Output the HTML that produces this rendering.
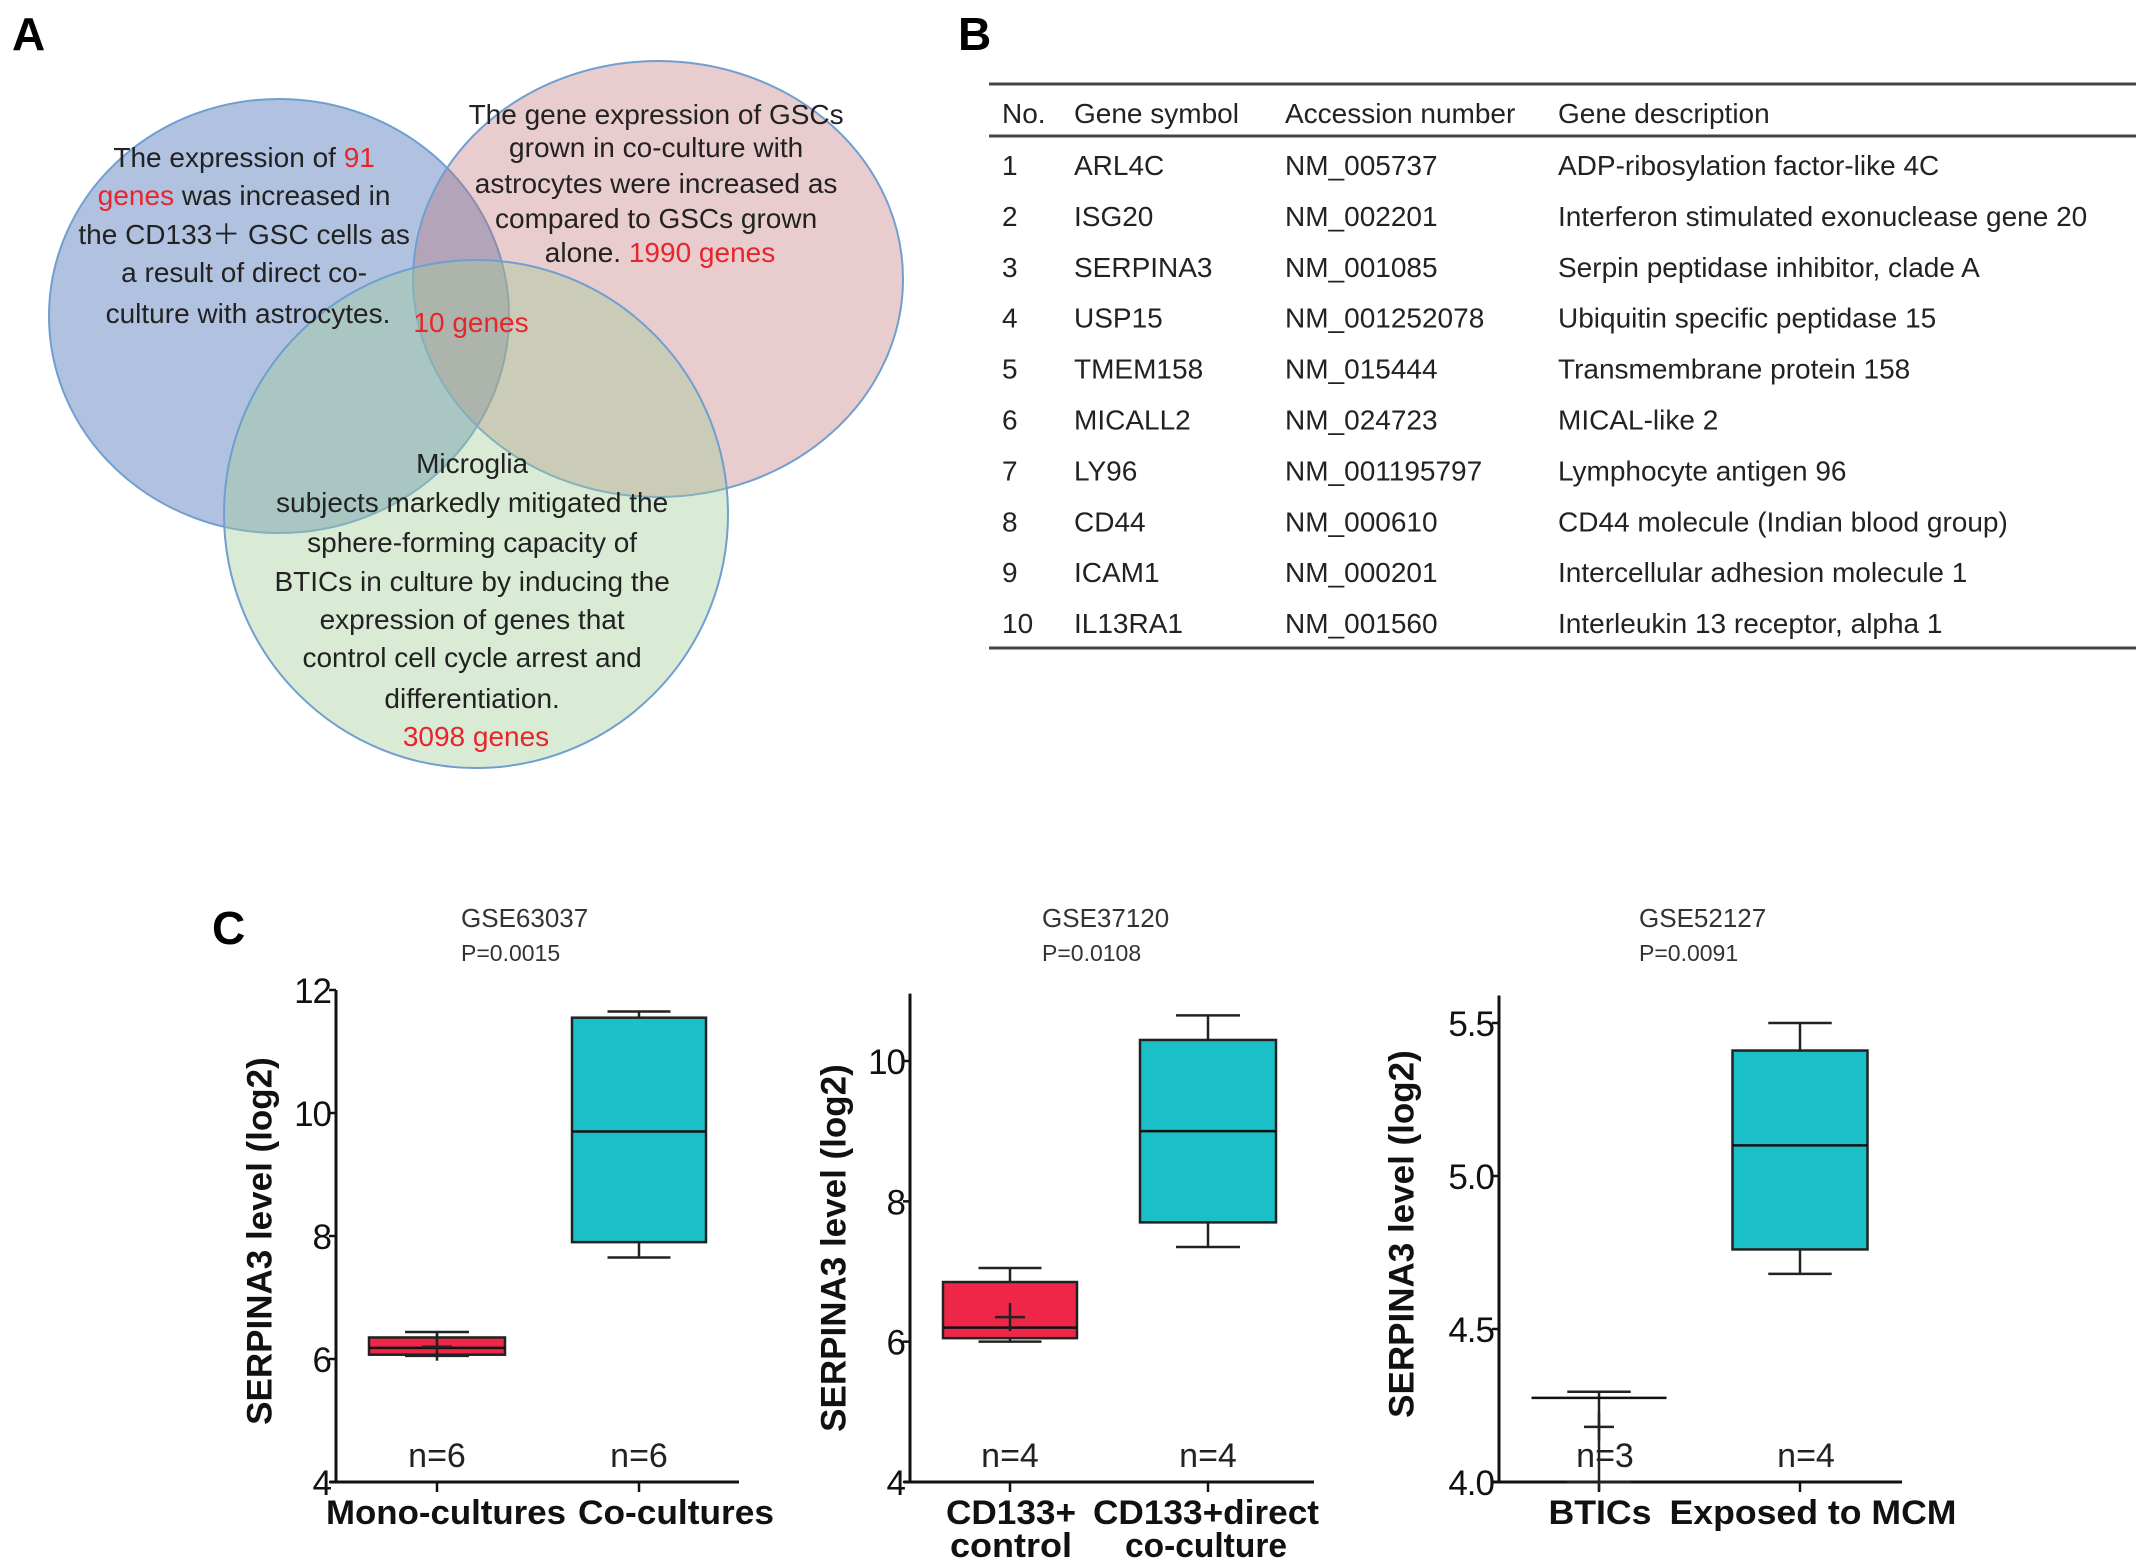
<!DOCTYPE html>
<html><head><meta charset="utf-8"><style>
html,body{margin:0;padding:0;background:#fff;}
svg{display:block;}
</style></head><body>
<svg id="fig" xmlns="http://www.w3.org/2000/svg" width="2150" height="1566" viewBox="0 0 2150 1566">
<g>
<text x="12" y="50" font-family="Liberation Sans, sans-serif" font-weight="bold" font-size="46">A</text>
<ellipse cx="279" cy="316" rx="230" ry="217" fill="rgba(79,120,185,0.45)" stroke="#6f9fd0" stroke-width="2"/>
<ellipse cx="658" cy="279" rx="245" ry="218" fill="rgba(190,110,115,0.35)" stroke="#6f9fd0" stroke-width="2"/>
<ellipse cx="476" cy="514" rx="252" ry="254" fill="rgba(160,205,150,0.40)" stroke="#6f9fd0" stroke-width="2"/>
<g font-family="Liberation Sans, 'Noto Sans CJK SC', sans-serif" font-size="28" fill="#222" text-anchor="middle">
<text>
<tspan x="248" y="167">The expression of <tspan fill="#e8242c">91</tspan></tspan>
<tspan x="248" y="205"><tspan fill="#e8242c">genes</tspan> was increased in</tspan>
<tspan x="248" y="244">the CD133＋ GSC cells as</tspan>
<tspan x="248" y="282">a result of direct co-</tspan>
<tspan x="248" y="323">culture with astrocytes.</tspan>
</text>
<text>
<tspan x="660" y="124">The gene expression of GSCs</tspan>
<tspan x="660" y="157">grown in co-culture with</tspan>
<tspan x="660" y="193">astrocytes were increased as</tspan>
<tspan x="660" y="228">compared to GSCs grown</tspan>
<tspan x="660" y="262">alone. <tspan fill="#e8242c">1990 genes</tspan></tspan>
</text>
<text x="471" y="332" fill="#e8242c">10 genes</text>
<text>
<tspan x="476" y="473">Microglia</tspan>
<tspan x="476" y="512">subjects markedly mitigated the</tspan>
<tspan x="476" y="552">sphere-forming capacity of</tspan>
<tspan x="476" y="591">BTICs in culture by inducing the</tspan>
<tspan x="476" y="629">expression of genes that</tspan>
<tspan x="476" y="667">control cell cycle arrest and</tspan>
<tspan x="476" y="708">differentiation.</tspan>
<tspan x="476" y="746" fill="#e8242c">3098 genes</tspan>
</text>
</g>
</g>
<g id="tableB">
<text x="958" y="50" font-family="Liberation Sans, sans-serif" font-weight="bold" font-size="46">B</text>
<line x1="989" y1="84" x2="2136" y2="84" stroke="#444" stroke-width="3"/>
<line x1="989" y1="136" x2="2136" y2="136" stroke="#444" stroke-width="3"/>
<line x1="989" y1="648" x2="2136" y2="648" stroke="#444" stroke-width="3"/>
</g>
<g>
<text x="212" y="944" font-family="Liberation Sans, sans-serif" font-weight="bold" font-size="46">C</text>
</g>
<g id="charts"></g>
</svg>
<script>
// ---- table data ----
var tableHeaders = ["No.","Gene symbol","Accession number","Gene description"];
var geneSymbols = ["ARL4C","ISG20","SERPINA3","USP15","TMEM158","MICALL2","LY96","CD44","ICAM1","IL13RA1"];
var accessions = ["NM_005737","NM_002201","NM_001085","NM_001252078","NM_015444","NM_024723","NM_001195797","NM_000610","NM_000201","NM_001560"];
var descriptions = ["ADP-ribosylation factor-like 4C","Interferon stimulated exonuclease gene 20","Serpin peptidase inhibitor, clade A","Ubiquitin specific peptidase 15","Transmembrane protein 158","MICAL-like 2","Lymphocyte antigen 96","CD44 molecule (Indian blood group)","Intercellular adhesion molecule 1","Interleukin 13 receptor, alpha 1"];

// ---- chart data ----
var chartTitles = ["GSE63037","GSE37120","GSE52127"];
var chartPvals = ["P=0.0015","P=0.0108","P=0.0091"];
var categories1 = [["Mono-cultures"],["Co-cultures"]];
var categories2 = [["CD133+","control"],["CD133+direct","co-culture"]];
var categories3 = [["BTICs"],["Exposed to MCM"]];
var nLabels1 = ["n=6","n=6"];
var nLabels2 = ["n=4","n=4"];
var nLabels3 = ["n=3","n=4"];
var ticks1 = [4,6,8,10,12];
var ticks2 = [4,6,8,10];
var ticks3 = [4.0,4.5,5.0,5.5];
var tickLabels3 = ["4.0","4.5","5.0","5.5"];
// [whiskerLow, q1, median, q3, whiskerHigh, mean]
var boxes1 = [[6.05,6.07,6.18,6.35,6.44,6.2],[7.65,7.9,9.7,11.55,11.65,null]];
var boxes2 = [[6.0,6.05,6.2,6.85,7.05,6.35],[7.35,7.7,9.0,10.3,10.65,null]];
var boxes3 = [[4.0,4.275,4.275,4.275,4.295,4.18],[4.68,4.76,5.1,5.41,5.5,null]];

var NS="http://www.w3.org/2000/svg";
function mk(tag, attrs, parent){var e=document.createElementNS(NS,tag);for(var k in attrs)e.setAttribute(k,attrs[k]);parent.appendChild(e);return e;}

// table
var tb=document.getElementById('tableB');
var colX=[1002,1074,1285,1558];
var TF="Liberation Sans, sans-serif";
tableHeaders.forEach(function(h,i){
  var t=mk('text',{x:colX[i],y:123,'font-family':TF,'font-size':28,fill:'#222'},tb);
  
  
  t.textContent=h;
});
geneSymbols.forEach(function(g,r){
  var y=175+r*50.9;
  var vals=[String(r+1),g,accessions[r],descriptions[r]];
  vals.forEach(function(v,i){
    var t=mk('text',{x:colX[i],y:y,'font-family':TF,'font-size':28,fill:'#222'},tb);
    
    
    t.textContent=v;
  });
});

// charts (layout: label centres & widths are layout, not data)
var charts=[
 {ax:336,x1:739,ymin:4,ymax:12,yb:1482,ytop:990,top:12,ticks:ticks1,tl:null,cats:categories1,n:nLabels1,boxes:boxes1,cx:[437,639],bw:[136,134],title:461,ylab:262,ly:1241,lx:[[446],[676]],lw:[[240],[196]]},
 {ax:910,x1:1314,ymin:4,ymax:10,yb:1482,ytop:1061,top:10.96,ticks:ticks2,tl:null,cats:categories2,n:nLabels2,boxes:boxes2,cx:[1010,1208],bw:[134,136],title:1042,ylab:836,ly:1248,lx:[[1011,1011],[1206,1206]],lw:[[130,122],[226,162]]},
 {ax:1499,x1:1902,ymin:4,ymax:5.5,yb:1482,ytop:1023,top:5.59,ticks:ticks3,tl:tickLabels3,cats:categories3,n:nLabels3,boxes:boxes3,cx:[1599,1800],bw:[135,135],title:1639,ylab:1404,ly:1234,lx:[[1600],[1813]],lw:[[103],[287]]}
];
var root=document.getElementById('charts');
var colors=['#ee2748','#1abfc8'];
charts.forEach(function(c,ci){
  var g=mk('g',{},root);
  
  
  function Y(v){return c.yb-(v-c.ymin)*(c.yb-c.ytop)/(c.ymax-c.ymin);}
  var t=mk('text',{x:c.title,y:927,'font-family':TF,'font-size':26,fill:'#333'},g);
  
  
  t.textContent=chartTitles[ci];
  var p=mk('text',{x:c.title,y:961,'font-family':TF,'font-size':23,fill:'#333'},g);
  
  
  p.textContent=chartPvals[ci];
  var ya=mk('line',{x1:c.ax,y1:Y(c.top),x2:c.ax,y2:c.yb+1.5,stroke:'#111','stroke-width':3},g);
  
  
  var xa=mk('line',{x1:c.ax-6,y1:c.yb,x2:c.x1,y2:c.yb,stroke:'#111','stroke-width':3},g);
  
  
  c.ticks.forEach(function(v,i){
    var y=Y(v);
    var tk=mk('line',{x1:c.ax-7,y1:y,x2:c.ax,y2:y,stroke:'#111','stroke-width':2.5},g);
    
    
    var tl=mk('text',{x:c.ax-5,y:y+13,'text-anchor':'end','font-family':TF,'font-size':35,fill:'#111','letter-spacing':-1},g);
    
    
    tl.textContent=c.tl?c.tl[i]:String(v);
  });
  var ly=c.ly;
  var yl=mk('text',{x:c.ylab,y:ly,transform:'rotate(-90 '+c.ylab+' '+ly+')','text-anchor':'middle','dominant-baseline':'middle','font-family':TF,'font-weight':'bold','font-size':35,fill:'#111'},g);
  
  
  yl.textContent='SERPINA3 level (log2)';
  c.boxes.forEach(function(b,bi){
    var cx=c.cx[bi], w=c.bw[bi];
    var xt=mk('line',{x1:cx,y1:c.yb,x2:cx,y2:c.yb+10,stroke:'#111','stroke-width':2.5},g);
    
    
    var capw=w*0.47;
    var wl=mk('line',{x1:cx,y1:Y(b[4]),x2:cx,y2:Y(b[0])+(ci==2&&bi==0?8:0),stroke:'#222','stroke-width':2.5},g);
    
    
    var ch=mk('line',{x1:cx-capw/2,y1:Y(b[4]),x2:cx+capw/2,y2:Y(b[4]),stroke:'#222','stroke-width':2.5},g);
    
    
    var cl=mk('line',{x1:cx-capw/2,y1:Y(b[0]),x2:cx+capw/2,y2:Y(b[0]),stroke:'#222','stroke-width':2.5},g);
    
    
    var by=Y(b[3]), bh=Math.max(Y(b[1])-Y(b[3]),0);
    var r=mk('rect',{x:cx-w/2,y:by,width:w,height:bh,fill:colors[bi],stroke:'#222','stroke-width':2.5},g);
    
    
    var md=mk('line',{x1:cx-w/2,y1:Y(b[2]),x2:cx+w/2,y2:Y(b[2]),stroke:'#111','stroke-width':2.5},g);
    
    
    if(b[5]!==null){
      var my=Y(b[5]);
      var mh=mk('line',{x1:cx-15,y1:my,x2:cx+15,y2:my,stroke:'#222','stroke-width':2.5},g);
      
      
      var mv=mk('line',{x1:cx,y1:my-14,x2:cx,y2:my+14,stroke:'#222','stroke-width':2.5},g);
      
      
    }
    var nl=mk('text',{x:cx+(ci==2?6:0),y:1467,'text-anchor':'middle','font-family':TF,'font-size':34,fill:'#222'},g);
    
    
    nl.textContent=c.n[bi];
    c.cats[bi].forEach(function(line,li){
      var ct=mk('text',{x:c.lx[bi][li],y:1524+li*33,'text-anchor':'middle','font-family':TF,'font-weight':'bold','font-size':34,fill:'#111',textLength:c.lw[bi][li],lengthAdjust:'spacingAndGlyphs'},g);
      
      
      ct.textContent=line;
    });
  });
});
</script>
</body></html>
